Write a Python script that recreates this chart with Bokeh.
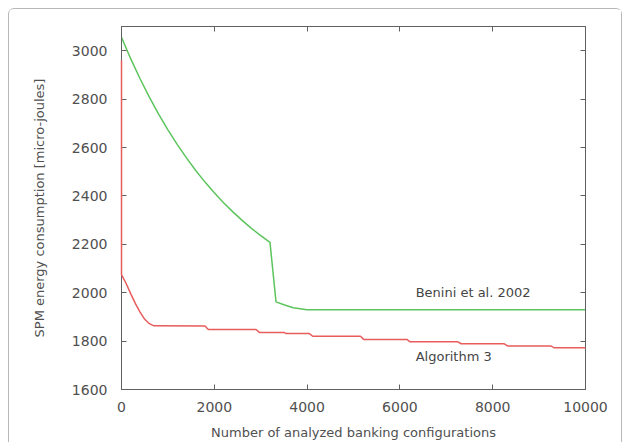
from bokeh.plotting import figure
from bokeh.models import LinearAxis, Range1d, FixedTicker, Label, CustomJSTickFormatter
from bokeh.embed import file_html
from bokeh.resources import INLINE

# Data
green_x = [0, 200, 400, 600, 800, 1000, 1200, 1400, 1600, 1800, 2000, 2200, 2400, 2600, 2800, 3000, 3200,
           3330, 3500, 3700, 4000, 10000]
green_y = [3055, 2966, 2884, 2808, 2738, 2673, 2613, 2557, 2505, 2457, 2413, 2372, 2334, 2299, 2266, 2236, 2208,
           1962, 1950, 1938, 1930, 1930]

red_x = [0, 0, 100, 200, 300, 400, 500, 600, 700, 1800, 1870, 2900, 2970, 3500, 3550, 4050, 4120, 5150, 5220,
         6150, 6220, 7250, 7320, 8250, 8320, 9250, 9320, 10000]
red_y = [2960, 2075, 2038, 1995, 1955, 1920, 1890, 1872, 1863, 1862, 1848, 1848, 1836, 1836, 1831, 1831, 1820,
         1820, 1807, 1807, 1797, 1797, 1789, 1789, 1780, 1780, 1773, 1773]

x_ticks = [0, 2000, 4000, 6000, 8000, 10000]
y_ticks = [1600, 1800, 2000, 2200, 2400, 2600, 2800, 3000]

label_green = "Benini et al. 2002"
label_red = "Algorithm 3"

FONT = "DejaVu Sans"
TXT = "#505050"
AX = "#606060"

p = figure(width=614, height=434, output_backend="svg", toolbar_location=None,
           x_range=Range1d(0, 10000), y_range=Range1d(1600, 3100),
           min_border_left=112, min_border_right=38, min_border_top=17, min_border_bottom=54,
           x_axis_label="Number of analyzed banking configurations",
           y_axis_label="SPM energy consumption [micro-joules]")
p.styles = {"border": "1px solid #b8b8b8", "border-bottom": "none", "border-radius": "6px 6px 0 0",
            "margin-left": "8px", "margin-top": "8px"}
p.grid.visible = False
p.outline_line_color = AX
p.outline_line_width = 1

for ax, ticks in ((p.xaxis[0], x_ticks), (p.yaxis[0], y_ticks)):
    ax.ticker = FixedTicker(ticks=ticks)
    ax.major_tick_in = 5
    ax.major_tick_out = 0
    ax.minor_tick_line_color = None
    ax.axis_line_color = AX
    ax.major_tick_line_color = AX
    ax.major_label_text_font = FONT
    ax.major_label_text_font_size = "14px"
    ax.major_label_text_color = TXT
    ax.axis_label_text_font = FONT
    ax.axis_label_text_font_size = "13px"
    ax.axis_label_text_font_style = "normal"
    ax.axis_label_text_color = TXT

p.xaxis.major_label_standoff = 12
p.xaxis.axis_label_standoff = 10
p.yaxis.major_label_standoff = 14
p.yaxis.axis_label_standoff = 22

# mirrored ticks
for loc, ticks in (("above", x_ticks), ("right", y_ticks)):
    a = LinearAxis(ticker=FixedTicker(ticks=ticks), formatter=CustomJSTickFormatter(code="return ''"))
    a.major_tick_in = 5
    a.major_tick_out = 0
    a.minor_tick_line_color = None
    a.axis_line_color = AX
    a.major_tick_line_color = AX
    a.major_label_standoff = 0
    p.add_layout(a, loc)

p.line(green_x, green_y, line_color="#5cc45c", line_width=1.5)
p.line(red_x, red_y, line_color="#e85c5c", line_width=1.5, level="overlay")

p.add_layout(Label(x=6340, y=2001, text=label_green, text_font=FONT, text_font_size="13px",
                   text_color="#454545", text_baseline="middle"))
p.add_layout(Label(x=6340, y=1736, text=label_red, text_font=FONT, text_font_size="13px",
                   text_color="#454545", text_baseline="middle"))

open("out.html", "w").write(file_html(p, INLINE))
